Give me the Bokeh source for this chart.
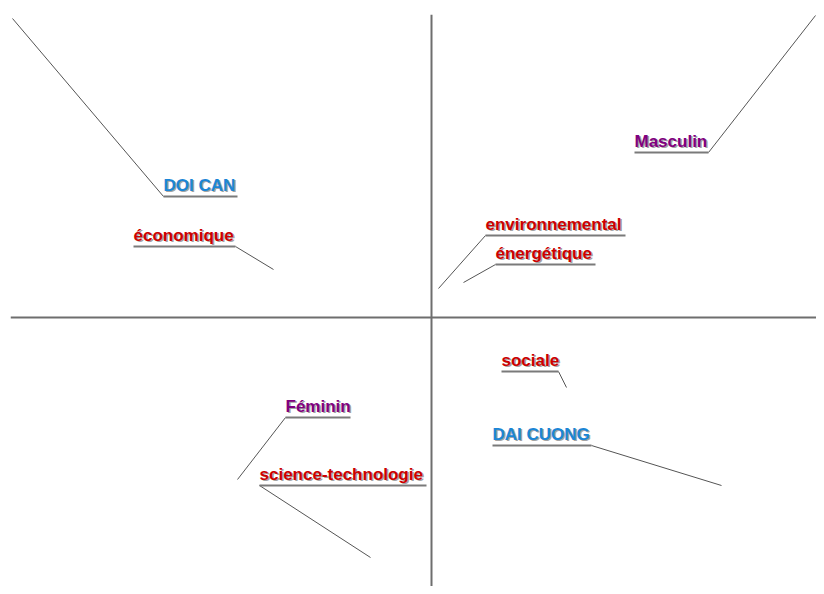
from bokeh.plotting import figure
from bokeh.models import ColumnDataSource, Span, Range1d
from bokeh.core.properties import value
from bokeh.embed import file_html
from bokeh.resources import INLINE

# --- data (coordinates on the two factorial dimensions) ---
labels = ["DOI CAN", "économique", "Masculin", "environnemental", "énergétique",
          "sociale", "DAI CUONG", "Féminin", "science-technologie"]
groups = ["filiere", "theme", "sexe", "theme", "theme",
          "theme", "filiere", "sexe", "theme"]
dim1 = [-1.0475, -0.395, 0.96, 0.0175, 0.08, 0.3375, 0.725, -0.485, -0.1525]
dim2 = [0.7475, 0.12, 0.755, 0.0725, 0.0875, -0.175, -0.42, -0.405, -0.6]

# --- label layout (repelled label positions, data units) ---
lab_x0 = [-0.67, -0.745, 0.5075, 0.135, 0.16, 0.175, 0.1525, -0.365, -0.43]
lab_x1 = [-0.485, -0.49, 0.6925, 0.485, 0.41, 0.3175, 0.40, -0.2025, -0.0125]
lab_y = [0.3025, 0.1775, 0.4125, 0.205, 0.1325, -0.135, -0.32, -0.25, -0.42]
lab_side = ["left", "right", "right", "left", "left", "right", "right", "left", "left"]

group_colors = {"filiere": "#1b86d6", "theme": "#cc0000", "sexe": "#800080"}
colors = [group_colors[g] for g in groups]

elbow_x = [x0 if s == "left" else x1 for x0, x1, s in zip(lab_x0, lab_x1, lab_side)]

src = ColumnDataSource(dict(
    label=labels, x=dim1, y=dim2, x0=lab_x0, x1=lab_x1, ly=lab_y,
    ex=elbow_x, color=colors))

p = figure(width=816, height=586, output_backend="svg", toolbar_location=None,
           x_range=Range1d(-1.0525, 0.9625), y_range=Range1d(-0.6725, 0.7575),
           min_border_left=10, min_border_top=14, min_border_right=0, min_border_bottom=0)
p.axis.visible = False
p.grid.visible = False
p.outline_line_color = None

p.add_layout(Span(location=0, dimension="width", line_color="#6e6e6e", line_width=2))
p.add_layout(Span(location=0, dimension="height", line_color="#6e6e6e", line_width=2))

# leader lines
p.segment(x0="x", y0="y", x1="ex", y1="ly", source=src, line_color="#555555", line_width=1)
# underlines
p.segment(x0="x0", y0="ly", x1="x1", y1="ly", source=src, line_color="#7a7a7a", line_width=2)

# text shadow
p.text(x="x0", y="ly", text="label", source=src, text_font=value("Liberation Sans"),
       text_font_style="bold", text_font_size="17px", text_color="#555555", text_alpha=0.55,
       text_baseline="bottom", x_offset=1.5, y_offset=-1)
p.text(x="x0", y="ly", text="label", source=src, text_font=value("Liberation Sans"),
       text_font_style="bold", text_font_size="17px", text_color="color",
       text_baseline="bottom", x_offset=0, y_offset=-2)

open("out.html", "w").write(file_html(p, INLINE))
